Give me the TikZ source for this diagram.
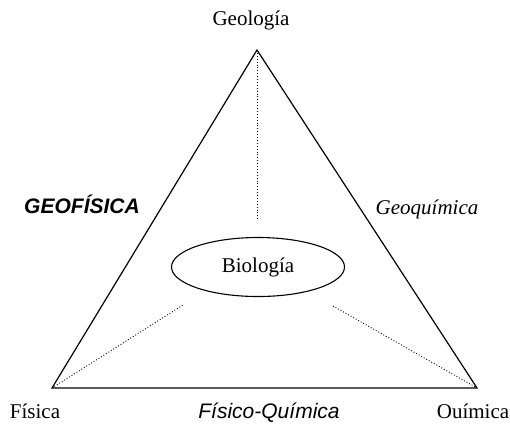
\documentclass[tikz,border=0pt]{standalone}
\usepackage{fontspec}
\setmainfont{Liberation Serif}
\setsansfont{Liberation Sans}
\usetikzlibrary{shapes.geometric}

\begin{document}
\begin{tikzpicture}[x=1pt, y=-1pt, font=\fontsize{21}{25}\selectfont,
    lado/.style={line width=1.2pt, line join=miter},
    punteado/.style={dotted, line width=0.9pt},
    rotulo/.style={anchor=base, inner sep=0pt}]
    \useasboundingbox (0,0) rectangle (510,432);
    \coordinate (geo) at (257,50);
    \coordinate (fis) at (52,388);
    \coordinate (qui) at (477,388);
    \draw[lado] (geo) -- (fis) -- (qui) -- cycle;
    \node[ellipse, draw, line width=1.1pt, minimum width=173pt, minimum height=59pt, inner sep=0pt] (bio) at (258,267) {};
    \node[rotulo] (biotxt) at (258,272) {Biología};
    \coordinate (tope) at (257,221);
    \coordinate (izq) at (183,305);
    \coordinate (der) at (333,306);
    \draw[punteado] (geo) -- (tope);
    \draw[punteado] (fis) -- (izq);
    \draw[punteado] (der) -- (qui);
    \node[rotulo] (geologia) at (251,25) {Geología};
    \node[rotulo] (fisica) at (35,418) {Física};
    \node[rotulo] (quimica) at (473,418) {Ouímica};
    \node[rotulo, font=\fontsize{21}{25}\selectfont\sffamily\itshape] (fisquim) at (269,418) {Físico-Química};
    \node[rotulo, font=\fontsize{21}{25}\selectfont\sffamily\bfseries\itshape] (geofis) at (82,213) {GEOFÍSICA};
    \node[rotulo, font=\fontsize{21}{25}\selectfont\itshape] (geoquim) at (427,214) {Geoquímica};
\end{tikzpicture}
\end{document}
